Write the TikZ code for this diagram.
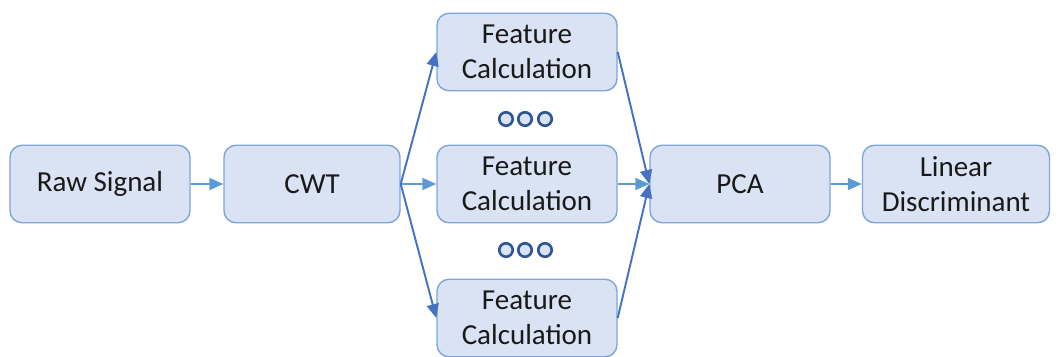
\documentclass[tikz,border=0pt]{standalone}
\usepackage{fontspec}
\setmainfont{Carlito}
\usepackage{tikz}
\usepackage{xcolor}
\usetikzlibrary{arrows.meta, positioning}
\definecolor{BoxFill}{HTML}{DAE3F3}
\definecolor{BoxLine}{HTML}{7EA6DC}
\definecolor{LightArrow}{HTML}{5B9BD5}
\definecolor{DarkArrow}{HTML}{4472C4}
\definecolor{DotLine}{HTML}{2F5597}

\begin{document}
\begin{tikzpicture}[
    >={Triangle[length=0.28cm, width=0.24cm]},
    block/.style={
        rectangle,
        rounded corners=0.24cm,
        fill=BoxFill,
        draw=BoxLine,
        line width=0.8pt,
        minimum width=3.6cm,
        minimum height=1.55cm,
        align=center,
        text=black!90,
        font=\fontsize{16.5}{20}\selectfont
    },
    every edge/.style={
        draw=LightArrow,
        line width=1.1pt,
        ->
    },
    fanout/.style={
        draw=DarkArrow
    },
    dot/.style={
        circle,
        draw=DotLine,
        fill=BoxFill,
        line width=1.5pt,
        minimum size=0.27cm,
        inner sep=0pt
    }
]

\useasboundingbox (0, 0) rectangle (21.28, -7.12);

\node[block] (raw) at (2.0, -3.68) {Raw Signal};
\node[block, minimum width=3.52cm] (cwt) at (6.24, -3.68) {CWT};

\node[block] (feat1) at (10.54, -1.04) {Feature\\Calculation};
\node[block] (feat2) at (10.54, -3.68) {Feature\\Calculation};
\node[block] (feat3) at (10.54, -6.36) {Feature\\Calculation};

\node[block] (pca) at (14.8, -3.68) {PCA};
\node[block, minimum width=3.74cm] (lda) at (19.12, -3.68) {Linear\\Discriminant};

% dots between the feature blocks
\foreach \i/\x in {1/10.12, 2/10.50, 3/10.90} {
    \node[dot] (dtop\i) at (\x, -2.38) {};
    \node[dot] (dbot\i) at (\x, -5.0) {};
}

\path (raw) edge (cwt);
\path (cwt) edge (feat2);
\path (cwt.east) edge[fanout] (feat1.west);
\path (cwt.east) edge[fanout] (feat3.west);

\path (feat2) edge (pca);
\path (feat1.east) edge[fanout] (pca.west);
\path (feat3.east) edge[fanout] (pca.west);

\path (pca) edge (lda);

\end{tikzpicture}
\end{document}
